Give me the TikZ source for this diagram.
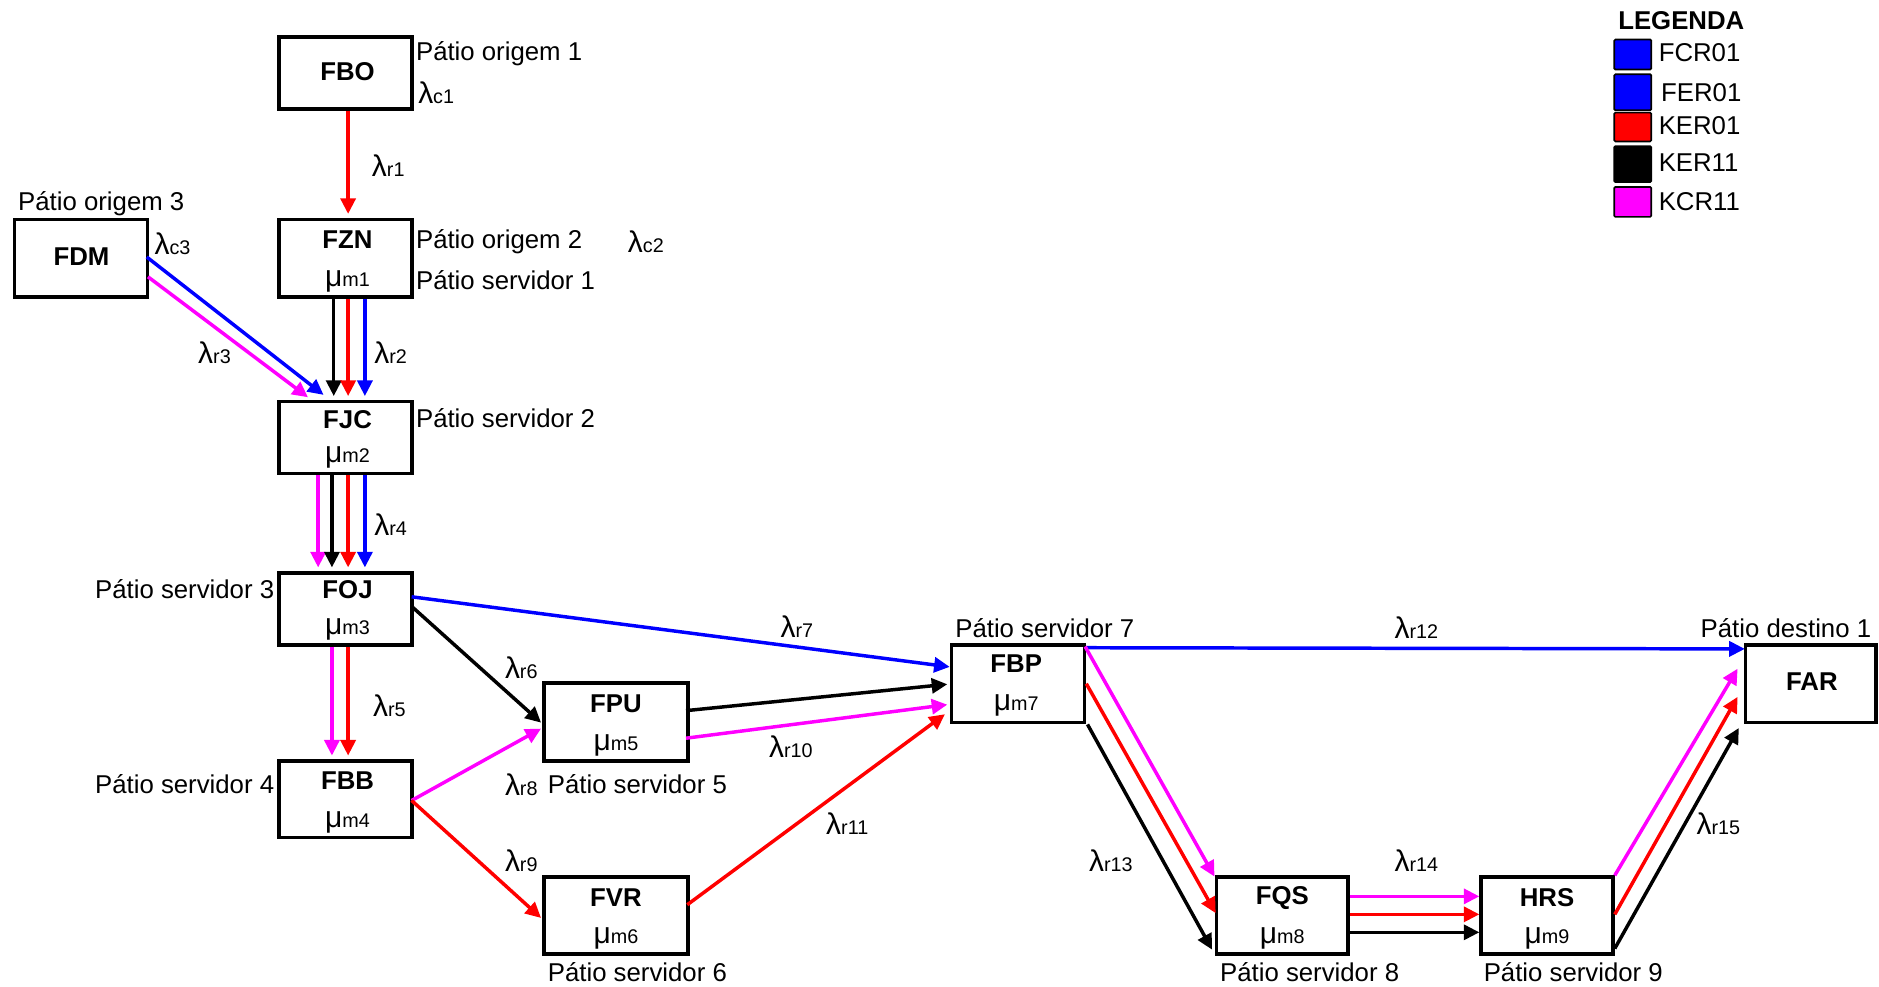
\documentclass[tikz,border=0pt]{standalone}
\usepackage{fontspec}
\setmainfont{Liberation Sans}
\usetikzlibrary{arrows.meta,calc}
\definecolor{kcr}{RGB}{255,0,255}
\definecolor{fcr}{RGB}{0,0,255}
\definecolor{ker}{RGB}{255,0,0}
% rate symbol with a small index, e.g. \ratesub{λ}{r1}
\newcommand{\ratesub}[2]{{\fontsize{25}{26}\selectfont #1}{\fontsize{16.5}{17}\selectfont #2}}
\begin{document}
\begin{tikzpicture}[x=1pt,y=-1pt,
  every node/.style={font=\fontsize{21.5}{24}\selectfont, inner sep=0pt},
  yard/.style={draw, rectangle, line width=3pt, minimum width=111pt, minimum height=64pt},
  code/.style={font=\fontsize{21.5}{24}\selectfont\bfseries},
  flow/.style={line width=2.9pt, -{Triangle[length=13pt,width=12.5pt]}},
  swatch/.style={draw, rectangle, line width=1.4pt, rounded corners=1pt, minimum width=31pt},
]
\useasboundingbox (0,0) rectangle (1568,823);

% ---- yards ----
\node[yard, minimum height=60pt] (FBO) at (288.5,61) {};
\node[yard, minimum height=65pt] (FZN) at (288.5,215.5) {};
\node[yard, minimum height=65pt] (FDM) at (67.5,215.5) {};
\node[yard, minimum height=60pt] (FJC) at (288.5,365) {};
\node[yard, minimum height=60pt] (FOJ) at (288.5,508) {};
\node[yard] (FBB) at (288.5,667) {};
\node[yard, minimum width=120pt, minimum height=65pt] (FPU) at (514,602.5) {};
\node[yard, minimum width=120pt] (FVR) at (514,764) {};
\node[yard, minimum height=65pt] (FBP) at (849.5,570.5) {};
\node[yard, minimum width=110pt] (FQS) at (1070,764) {};
\node[yard, minimum width=110pt] (HRS) at (1291,764) {};
\node[yard, minimum width=109pt, minimum height=65pt] (FAR) at (1511,570.5) {};

% ---- yard codes and service rates ----
\node[code] (tFBO) at (290,60) {FBO};
\node[code] (tFZN) at (290,200) {FZN};
\node (mFZN) at (290,235) {\ratesub{μ}{m1}};
\node[code] (tFDM) at (68,214) {FDM};
\node[code] (tFJC) at (290,350) {FJC};
\node (mFJC) at (290,382) {\ratesub{μ}{m2}};
\node[code] (tFOJ) at (290,492) {FOJ};
\node (mFOJ) at (290,525) {\ratesub{μ}{m3}};
\node[code] (tFBB) at (290,651) {FBB};
\node (mFBB) at (290,686) {\ratesub{μ}{m4}};
\node[code] (tFPU) at (514,587) {FPU};
\node (mFPU) at (514,622) {\ratesub{μ}{m5}};
\node[code] (tFVR) at (514,749) {FVR};
\node (mFVR) at (514,783) {\ratesub{μ}{m6}};
\node[code] (tFBP) at (848,554) {FBP};
\node (mFBP) at (848,589) {\ratesub{μ}{m7}};
\node[code] (tFQS) at (1070,749) {FQS};
\node (mFQS) at (1070,783) {\ratesub{μ}{m8}};
\node[code] (tHRS) at (1291,749) {HRS};
\node (mHRS) at (1291,783) {\ratesub{μ}{m9}};
\node[code] (tFAR) at (1512,569) {FAR};

% ---- yard roles ----
\node[anchor=west] (p1) at (347,45) {Pátio origem 1};
\node[anchor=west] (p2) at (347,202) {Pátio origem 2};
\node[anchor=west] (p3) at (15,170) {Pátio origem 3};
\node[anchor=west] (s1) at (347,234) {Pátio servidor 1};
\node[anchor=west] (s2) at (347,349) {Pátio servidor 2};
\node[anchor=east] (s3) at (229,492) {Pátio servidor 3};
\node[anchor=east] (s4) at (229,654) {Pátio servidor 4};
\node[anchor=west] (s5) at (457,654) {Pátio servidor 5};
\node[anchor=west] (s6) at (457,811) {Pátio servidor 6};
\node[anchor=west] (s7) at (797,524) {Pátio servidor 7};
\node[anchor=west] (s8) at (1018,811) {Pátio servidor 8};
\node[anchor=west] (s9) at (1238,811) {Pátio servidor 9};
\node[anchor=west] (d1) at (1419,524) {Pátio destino 1};

% ---- arrival rates ----
\node (c1) at (364,77) {\ratesub{λ}{c1}};
\node (c2) at (539,202) {\ratesub{λ}{c2}};
\node (c3) at (144,203) {\ratesub{λ}{c3}};
\node (r1) at (324,138) {\ratesub{λ}{r1}};
\node (r2) at (326,294) {\ratesub{λ}{r2}};
\node (r3) at (179,294) {\ratesub{λ}{r3}};
\node (r4) at (326,438) {\ratesub{λ}{r4}};
\node (r5) at (325,589) {\ratesub{λ}{r5}};
\node (r6) at (435,557) {\ratesub{λ}{r6}};
\node (r7) at (665,523) {\ratesub{λ}{r7}};
\node (r8) at (435,655) {\ratesub{λ}{r8}};
\node (r9) at (435,718) {\ratesub{λ}{r9}};
\node (r10) at (660,623) {\ratesub{λ}{r10}};
\node (r11) at (707,687) {\ratesub{λ}{r11}};
\node (r12) at (1182,524) {\ratesub{λ}{r12}};
\node (r13) at (927,718) {\ratesub{λ}{r13}};
\node (r14) at (1182,718) {\ratesub{λ}{r14}};
\node (r15) at (1434,687) {\ratesub{λ}{r15}};

% ---- flows ----
\draw[flow, ker] ($(FBO.south)+(2,0)$) -- ($(FZN.north)+(2,-3)$);

\draw[flow, black] ($(FZN.south)+(-10,0)$) -- ($(FJC.north)+(-10,-3)$);
\draw[flow, ker]   ($(FZN.south)+(2,0)$)   -- ($(FJC.north)+(2,-3)$);
\draw[flow, fcr]   ($(FZN.south)+(16,0)$)  -- ($(FJC.north)+(16,-3)$);

\draw[flow, fcr] ($(FDM.east)+(-2,-1)$)   -- ($(FJC.north)+(-18.5,-4)$);
\draw[flow, kcr] ($(FDM.east)+(-1,15.5)$) -- ($(FJC.north)+(-31.5,-2)$);

\draw[flow, kcr]   ($(FJC.south)+(-23,0)$)   -- ($(FOJ.north)+(-23,-3)$);
\draw[flow, black] ($(FJC.south)+(-11.5,0)$) -- ($(FOJ.north)+(-11.5,-3)$);
\draw[flow, ker]   ($(FJC.south)+(2,0)$)     -- ($(FOJ.north)+(2,-3)$);
\draw[flow, fcr]   ($(FJC.south)+(16,0)$)    -- ($(FOJ.north)+(16,-3)$);

\draw[flow, kcr] ($(FOJ.south)+(-11.5,0)$) -- ($(FBB.north)+(-11.5,-3)$);
\draw[flow, ker] ($(FOJ.south)+(2,0)$)     -- ($(FBB.north)+(2,-3)$);

\draw[flow, fcr]   ($(FOJ.east)+(-2,-10)$) -- ($(FBP.west)+(0,-14)$);
\draw[flow, black] ($(FOJ.east)+(-2,-2)$)  -- ($(FPU.west)+(-1,0.5)$);

\draw[flow, kcr] ($(FBB.east)+(-2,1)$) -- ($(FPU.west)+(-1,5.5)$);
\draw[flow, ker] ($(FBB.east)+(-2,1)$) -- ($(FVR.west)+(-1,2)$);

\draw[flow, black] ($(FPU.east)+(-3,-9.5)$) -- ($(FBP.west)+(-2,0.5)$);
\draw[flow, kcr]   ($(FPU.east)+(-3,13.5)$) -- ($(FBP.west)+(-2,17.5)$);
\draw[flow, ker]   ($(FVR.east)+(-2,-9)$)   -- ($(FBP.west)+(-4,25.5)$);

\draw[flow, fcr] ($(FBP.north east)+(0,4)$) -- ($(FAR.north west)+(1,5)$);

\draw[flow, kcr]   ($(FBP.north east)+(-1,3)$) -- ($(FQS.north west)+(0,1)$);
\draw[flow, ker]   (FBP.east)                  -- ($(FQS.west)+(1,-2)$);
\draw[flow, black] ($(FBP.south east)+(1,0)$)  -- ($(FQS.south west)+(-2,-5)$);

\draw[flow, kcr]   ($(FQS.east)+(0,-16)$) -- ($(HRS.west)+(0,-16)$);
\draw[flow, ker]   ($(FQS.east)+(0,-1)$)  -- ($(HRS.west)+(0,-1)$);
\draw[flow, black] ($(FQS.east)+(0,14)$)  -- ($(HRS.west)+(0,14)$);

\draw[flow, kcr]   (HRS.north east)            -- ($(FAR.west)+(-5,-12.5)$);
\draw[flow, ker]   ($(HRS.east)+(0,-1)$)       -- ($(FAR.west)+(-5,11)$);
\draw[flow, black] ($(HRS.south east)+(0,-6)$) -- ($(FAR.south west)+(-4,3)$);

% ---- legend ----
\node[code] (leg) at (1403,17) {LEGENDA};
\node[swatch, fill=fcr, minimum height=25pt]   (k1) at (1362.5,45.5) {};
\node[swatch, fill=fcr, minimum height=30pt]   (k2) at (1362.5,77) {};
\node[swatch, fill=ker, minimum height=24pt]   (k3) at (1362.5,106) {};
\node[swatch, fill=black, minimum height=30pt] (k4) at (1362.5,137) {};
\node[swatch, fill=kcr, minimum height=25pt]   (k5) at (1362.5,168.5) {};
\node[anchor=west] (kt1) at (1384,44) {FCR01};
\node[anchor=west] (kt2) at (1386,77) {FER01};
\node[anchor=west] (kt3) at (1384,105) {KER01};
\node[anchor=west] (kt4) at (1384,136) {KER11};
\node[anchor=west] (kt5) at (1384,168) {KCR11};
\end{tikzpicture}
\end{document}
